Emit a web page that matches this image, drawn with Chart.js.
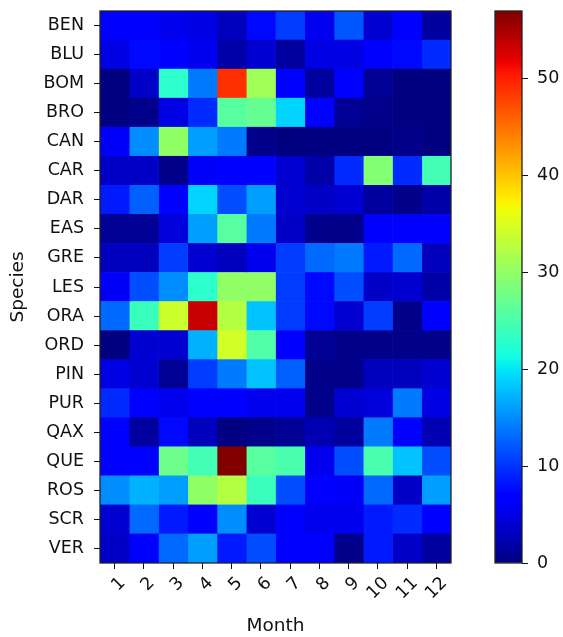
<!DOCTYPE html>
<html>
<head>
<meta charset="utf-8">
<script src="https://cdn.jsdelivr.net/npm/chart.js"></script>
<style>
    body { margin: 0; background: #fff; }
    canvas { position: absolute; left: 0; top: 0; }
</style>
</head>
<body>
<canvas id="heat" width="563" height="637"></canvas>
<canvas id="cbar" width="563" height="637"></canvas>
<script>
const months = [1, 2, 3, 4, 5, 6, 7, 8, 9, 10, 11, 12];
const species = ['BEN', 'BLU', 'BOM', 'BRO', 'CAN', 'CAR', 'DAR', 'EAS', 'GRE', 'LES',
                 'ORA', 'ORD', 'PIN', 'PUR', 'QAX', 'QUE', 'ROS', 'SCR', 'VER'];

const BEN = [6.5, 6.5, 5.5, 5, 3, 7.5, 10.5, 5.5, 12, 4, 6.5, 1.5];
const BLU = [5, 7.5, 7, 5.5, 2, 4, 1.5, 5, 5, 7, 7.5, 9.5];
const BOM = [0, 3.5, 23, 14, 49, 31, 7, 1.5, 7, 1, 0, 0];
const BRO = [0, 0.5, 5, 9.5, 26, 27, 19, 7, 1, 0.5, 0, 0];
const CAN = [6, 15, 30, 16, 14, 0.5, 0, 0, 0, 0, 0.5, 0];
const CAR = [3.5, 3.5, 0.5, 6, 6.5, 6.5, 4, 2, 9.5, 29, 9.5, 24.5];
const DAR = [8.5, 12.5, 7, 19, 11.5, 16, 4, 3.5, 4, 1.5, 0.5, 2];
const EAS = [1, 1, 4.5, 16, 26, 14, 3.5, 0.5, 0.5, 7, 7, 6.5];
const GRE = [3, 3, 10.5, 4, 3, 5.5, 10.5, 13, 14, 8.5, 13, 3];
const LES = [6, 11.5, 15, 23, 30, 30, 10.5, 7.5, 11.5, 3.5, 4, 2];
const ORA = [13, 24, 34, 53.5, 32.5, 18, 10.5, 7.5, 4, 10.5, 0.5, 7];
const ORD = [0, 4, 4, 17, 34.5, 25.5, 6.5, 1, 0.5, 0.5, 0.5, 0.5];
const PIN = [5, 4, 1, 10.5, 14, 18, 12.5, 0.5, 0.5, 3, 3, 4];
const PUR = [9.5, 6.5, 5.5, 7, 6.5, 5.5, 5.5, 0.5, 4, 4.5, 14, 5];
const QAX = [6.5, 1.5, 7.5, 3, 0, 0.5, 1, 2.5, 1.5, 14, 6.5, 2.5];
const QUE = [6.5, 6.5, 27.5, 24.5, 57, 26, 25, 5.5, 11.5, 25, 18, 11.5];
const ROS = [15, 17, 16, 30, 32.5, 24, 11.5, 7, 6, 13, 3.5, 16];
const SCR = [4, 13, 8.5, 6.5, 15, 4, 7, 5.5, 5.5, 8.5, 9.5, 6.5];
const VER = [3.5, 7, 13, 16, 8.5, 11.5, 7, 6.5, 0.5, 8.5, 3.5, 1.5];

const rows = [BEN, BLU, BOM, BRO, CAN, CAR, DAR, EAS, GRE, LES,
              ORA, ORD, PIN, PUR, QAX, QUE, ROS, SCR, VER];

const cbarMin = 0;
const cbarMax = 57;
const cbarTicks = [0, 10, 20, 30, 40, 50];

// matplotlib 'jet'
const jetSeg = {
    r: [[0, 0], [0.35, 0], [0.66, 1], [0.89, 1], [1, 0.5]],
    g: [[0, 0], [0.125, 0], [0.375, 1], [0.64, 1], [0.91, 0], [1, 0]],
    b: [[0, 0.5], [0.11, 1], [0.34, 1], [0.65, 0], [1, 0]]
};
function seg(pts, x) {
    for (let i = 1; i < pts.length; i++) {
        if (x <= pts[i][0]) {
            const [x0, y0] = pts[i - 1], [x1, y1] = pts[i];
            return y0 + (y1 - y0) * (x - x0) / (x1 - x0);
        }
    }
    return pts[pts.length - 1][1];
}
function jet(x) {
    x = Math.min(1, Math.max(0, x));
    const c = k => Math.round(255 * seg(jetSeg[k], x));
    return 'rgb(' + c('r') + ',' + c('g') + ',' + c('b') + ')';
}
function norm(v) { return (v - cbarMin) / (cbarMax - cbarMin); }

const font = { family: 'DejaVu Sans', size: 17.5 };
const labelFont = { family: 'DejaVu Sans', size: 18.5 };
const ink = '#111';

const frame = {
    id: 'frame',
    afterDraw(chart) {
        const a = chart.chartArea, ctx = chart.ctx;
        ctx.save();
        ctx.strokeStyle = '#222';
        ctx.lineWidth = 1.3;
        ctx.strokeRect(a.left, a.top, a.right - a.left, a.bottom - a.top);
        ctx.restore();
    }
};

function noPadV(s) { s.paddingTop = 0; s.paddingBottom = 0; }
function noPadH(s) { s.paddingLeft = 0; s.paddingRight = 0; }

new Chart(document.getElementById('heat'), {
    type: 'bar',
    data: {
        labels: species,
        datasets: months.map((m, j) => ({
            label: String(m),
            data: rows.map(() => [m - 0.5, m + 0.5]),
            backgroundColor: rows.map(r => jet(norm(r[j]))),
            borderWidth: 0,
            grouped: false,
            categoryPercentage: 1,
            barPercentage: 1
        }))
    },
    options: {
        indexAxis: 'y',
        responsive: false,
        animation: false,
        layout: { padding: { top: 11, right: 112, left: 0, bottom: 0 } },
        plugins: { legend: { display: false }, tooltip: { enabled: false } },
        scales: {
            x: {
                type: 'linear',
                min: 0.5,
                max: 12.5,
                afterBuildTicks: s => { s.ticks = months.map(v => ({ value: v })); },
                afterFit: s => { s.height = 74; noPadH(s); },
                grid: { drawOnChartArea: false, tickLength: 6, color: ink },
                border: { display: false },
                ticks: { autoSkip: false, minRotation: 45, maxRotation: 45, font, color: ink, padding: 4, labelOffset: 8 },
                title: { display: true, text: 'Month', font: labelFont, color: ink, padding: { top: 0, bottom: 0 } }
            },
            y: {
                afterFit: s => { s.width = 100; noPadV(s); },
                grid: { offset: false, drawOnChartArea: false, tickLength: 6, color: ink },
                border: { display: false },
                ticks: { autoSkip: false, font, color: ink, padding: 10 },
                title: { display: true, text: 'Species', font: labelFont, color: ink, padding: { top: 7, bottom: 0 } }
            }
        }
    },
    plugins: [frame]
});

// colour bar
new Chart(document.getElementById('cbar'), {
    type: 'bar',
    data: {
        labels: [''],
        datasets: [{
            data: [[cbarMin, cbarMax]],
            borderWidth: 0,
            categoryPercentage: 1,
            barPercentage: 1,
            backgroundColor: ctx => {
                const a = ctx.chart.chartArea;
                if (!a) return '#00f';
                const g = ctx.chart.ctx.createLinearGradient(0, a.bottom, 0, a.top);
                [0, 0.11, 0.125, 0.34, 0.35, 0.375, 0.64, 0.65, 0.66, 0.89, 0.91, 1]
                    .forEach(p => g.addColorStop(p, jet(p)));
                return g;
            }
        }]
    },
    options: {
        responsive: false,
        animation: false,
        layout: { padding: { left: 495, top: 11, bottom: 74, right: 0 } },
        plugins: { legend: { display: false }, tooltip: { enabled: false } },
        scales: {
            x: { display: false },
            y: {
                position: 'right',
                min: cbarMin,
                max: cbarMax,
                afterBuildTicks: s => { s.ticks = cbarTicks.map(v => ({ value: v })); },
                afterFit: s => { s.width = 41; noPadV(s); },
                grid: { drawOnChartArea: false, tickLength: 6, color: ink },
                border: { display: false },
                ticks: { font, color: ink, padding: 9 }
            }
        }
    },
    plugins: [frame]
});
</script>
</body>
</html>
